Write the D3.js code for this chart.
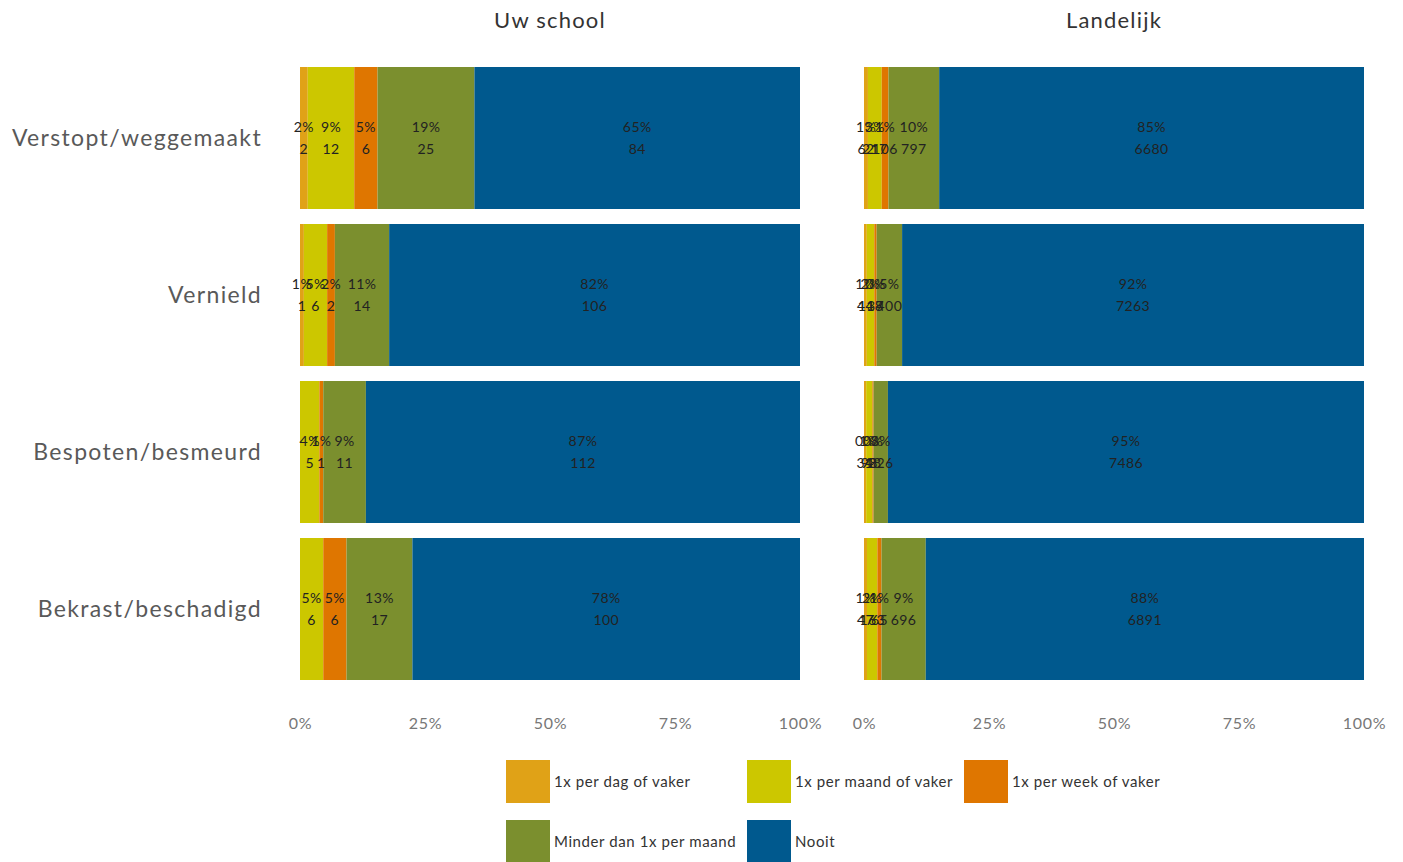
<!DOCTYPE html>
<html><head><meta charset="utf-8">
<script src="https://cdn.jsdelivr.net/npm/d3@7"></script>
<style>body{margin:0;background:#fff;} text{font-family:Lato, "Open Sans", sans-serif;}</style>
</head><body><svg id="c" width="1403" height="862"></svg>
<script>
const rows = ["Verstopt/weggemaakt","Vernield","Bespoten/besmeurd","Bekrast/beschadigd"];
const series = ["1x per dag of vaker","1x per maand of vaker","1x per week of vaker","Minder dan 1x per maand","Nooit"];
const colors = ["#E0A217","#CCC700","#DF7600","#7B8F2E","#00598E"];
const panels = ["Uw school","Landelijk"];
// counts per row, in series order
const school = [
  [2,12,6,25,84],
  [1,6,2,14,106],
  [0,5,1,11,112],
  [0,6,6,17,100]
];
const landelijk = [
  [62,217,106,797,6680],
  [44,118,37,400,7263],
  [34,98,18,226,7486],
  [47,163,65,696,6891]
];
const tickLabels = ["0%","25%","50%","75%","100%"];
const tickValues = [0,0.25,0.5,0.75,1];

const svg = d3.select("#c");
const y = d3.scaleBand().domain(rows).range([67,680]).paddingInner(15/157).paddingOuter(0);
const panelX = [[300,800],[864,1364]];
const datasets = [school, landelijk];

svg.selectAll("text.rowlab").data(rows).enter().append("text")
  .attr("x",262).attr("y",d=>y(d)+y.bandwidth()/2).attr("dy","0.35em")
  .attr("text-anchor","end").attr("font-size",23).attr("letter-spacing",1.35)
  .attr("fill","#595959").text(d=>d);

panels.forEach((p,pi)=>{
  const x = d3.scaleLinear().domain([0,1]).range(panelX[pi]);
  const g = svg.append("g");
  const gt = svg.append("g");
  gt.append("text").attr("x",(panelX[pi][0]+panelX[pi][1])/2).attr("y",28)
    .attr("text-anchor","middle").attr("font-size",22).attr("letter-spacing",1.2).attr("fill","#333").text(p);
  const data = datasets[pi];
  rows.forEach((r,ri)=>{
    const vals = data[ri];
    const tot = d3.sum(vals);
    let cum = 0;
    vals.forEach((v,si)=>{
      const x0 = cum/tot, x1 = (cum+v)/tot;
      cum += v;
      g.append("rect").attr("x",x(x0)).attr("y",y(r)).attr("width",Math.max(0,x(x1)-x(x0)))
        .attr("height",y.bandwidth()).attr("fill",colors[si]);
      if (v>0){
        const cx = (x(x0)+x(x1))/2;
        const cy = y(r)+y.bandwidth()/2;
        gt.append("text").attr("x",cx).attr("y",cy-11).attr("dy","0.35em").attr("text-anchor","middle")
          .attr("font-size",14).attr("letter-spacing",0.4).attr("fill","#222").text(Math.round(v/tot*100)+"%");
        gt.append("text").attr("x",cx).attr("y",cy+11).attr("dy","0.35em").attr("text-anchor","middle")
          .attr("font-size",14).attr("letter-spacing",0.4).attr("fill","#222").text(v);
      }
    });
  });
  const ax = d3.axisBottom(x).tickValues(tickValues).tickFormat((d,i)=>tickLabels[i]).tickSize(0).tickPadding(0);
  const axg = gt.append("g").attr("transform","translate(0,718)").call(ax);
  axg.select(".domain").remove();
  axg.selectAll("text").attr("font-size",16).attr("letter-spacing",0.7).attr("fill","#777").style("font-family","Lato, sans-serif");
});

// legend
const leg = [
  {x:506,y:760},{x:747,y:760},{x:964,y:760},{x:506,y:820},{x:747,y:820}
];
series.forEach((s,i)=>{
  const g = svg.append("g");
  g.append("rect").attr("x",leg[i].x).attr("y",leg[i].y).attr("width",44).attr("height",43).attr("fill",colors[i]);
  g.append("text").attr("x",leg[i].x+48).attr("y",leg[i].y+22).attr("dy","0.35em")
    .attr("font-size",15).attr("letter-spacing",0.6).attr("fill","#333").text(s);
});
</script></body></html>
